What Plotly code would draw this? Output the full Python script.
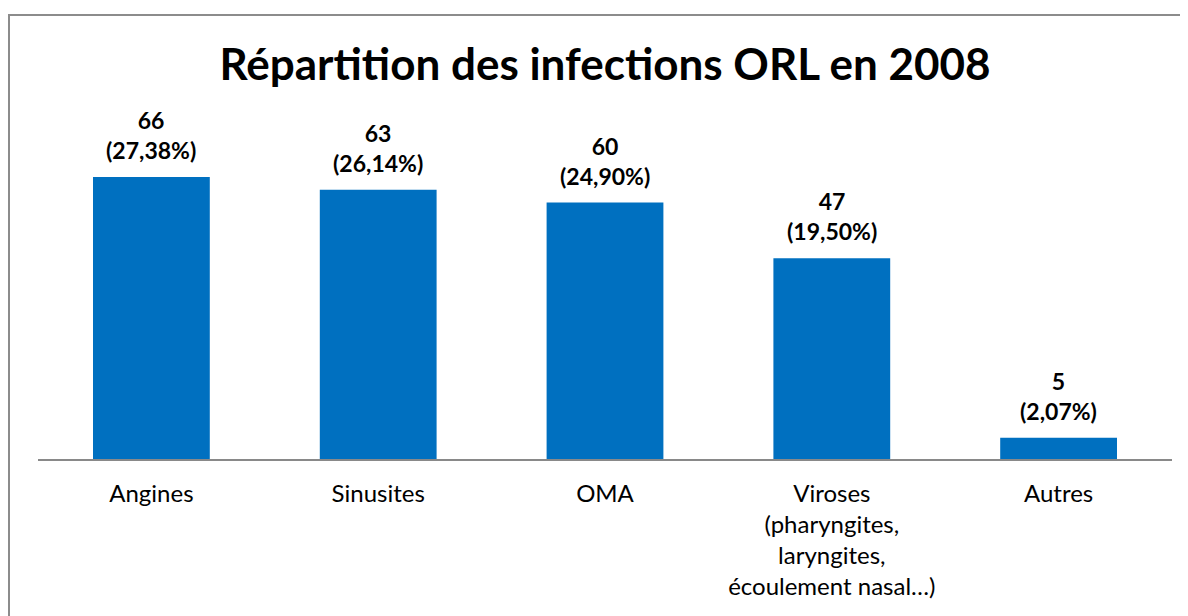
import plotly.graph_objects as go

categories = ["Angines", "Sinusites", "OMA",
              "Viroses<br>(pharyngites,<br>laryngites,<br>écoulement nasal…)", "Autres"]
values = [66, 63, 60, 47, 5]
pct_labels = ["27,38%", "26,14%", "24,90%", "19,50%", "2,07%"]

FONT = "Lato, Calibri, Carlito, sans-serif"
BAR_COLOR = "#0070C0"

# page has an 8px body margin; the figure is sized to fit the window
W, H = 1180, 608
L, R_, T, B = 30, 16, 92, 157
plot_w = W - L - R_
plot_h = H - T - B
y_max = 84

fig = go.Figure()
fig.add_trace(go.Bar(
    x=list(range(len(categories))), y=values,
    marker=dict(color=BAR_COLOR, line=dict(width=0)),
    width=0.515, hoverinfo="skip",
))

for i, (v, p) in enumerate(zip(values, pct_labels)):
    fig.add_annotation(
        x=i, y=v, xref="x", yref="y",
        text=f"<b>{v}<br>({p})</b>", showarrow=False,
        yanchor="bottom", yshift=11,
        font=dict(family=FONT, size=23, color="#000000"),
    )

# outer chart frame
fx0 = (1 - L) / plot_w
fy1 = (H - B - 7) / plot_h
fig.add_shape(type="rect", xref="paper", yref="paper",
              x0=fx0, x1=1.2, y0=-0.6, y1=fy1,
              line=dict(color="#8c8c8c", width=2), fillcolor="rgba(0,0,0,0)",
              layer="below")

fig.update_layout(
    width=W, height=H,
    margin=dict(l=L, r=R_, t=T, b=B, pad=0),
    paper_bgcolor="white", plot_bgcolor="white",
    showlegend=False,
    title=dict(text="<b>Répartition des infections ORL en 2008</b>",
               x=(L + plot_w / 2) / W, xanchor="center",
               y=1 - 57 / H, yanchor="middle", yref="container",
               font=dict(family=FONT, size=44, color="#000000")),
    xaxis=dict(tickmode="array", tickvals=list(range(len(categories))),
               ticktext=categories, range=[-0.5, len(categories) - 0.5],
               showline=True, linecolor="#898989", linewidth=2,
               ticks="", showgrid=False, zeroline=False,
               tickfont=dict(family=FONT, size=24, color="#000000"),
               ticklabelstandoff=12),
    yaxis=dict(range=[0, y_max], visible=False, showgrid=False, zeroline=False),
)

fig.write_html("out.html")
